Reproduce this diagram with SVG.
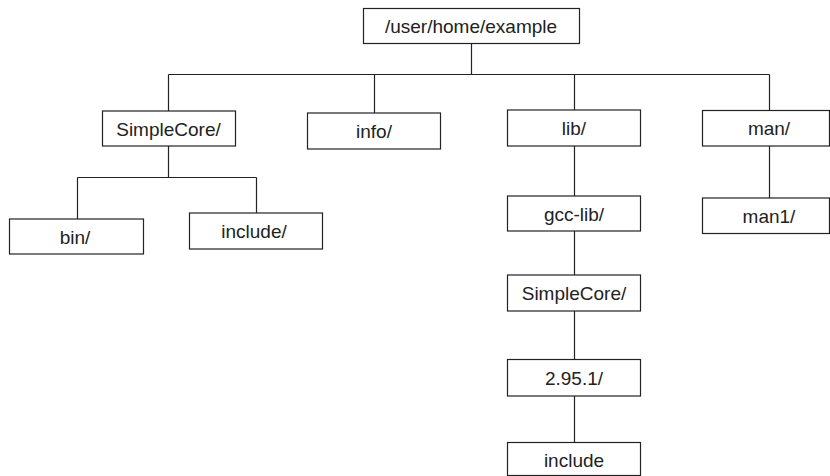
<svg xmlns="http://www.w3.org/2000/svg" width="830" height="476" viewBox="0 0 830 476">
<style>
.box{fill:#fff;stroke:#222;stroke-width:1.2}
.lbl{font-family:"Liberation Sans",Arial,sans-serif;font-size:19px;fill:#222;text-anchor:middle}
.con{stroke:#222;stroke-width:1.2;fill:none}
</style>
<rect width="830" height="476" fill="#fff"/>
<g id="connectors">
<path class="con" d="M471.5 43.5V74.5M168.5 74.5H769.5M168.5 74.5V111M374.5 74.5V113M574.5 74.5V110M769.5 74.5V111"/>
<path class="con" d="M168.5 146V177.5M77.5 177.5H256.5M77.5 177.5V219M256.5 177.5V213"/>
<path class="con" d="M574.5 146V196M574.5 231V275M574.5 311V359M574.5 396V442"/>
<path class="con" d="M769.5 146V198"/>
</g>
<g id="root"><rect class="box" x="363.5" y="8.5" width="216" height="35"/><text class="lbl" x="471" y="33">/user/home/example</text></g>
<g id="simplecore"><rect class="box" x="102.5" y="111" width="133" height="35"/><text class="lbl" x="168.5" y="136">SimpleCore/</text></g>
<g id="info"><rect class="box" x="307.5" y="113" width="133" height="36"/><text class="lbl" x="374" y="138">info/</text></g>
<g id="lib"><rect class="box" x="507.5" y="110" width="133" height="36"/><text class="lbl" x="574" y="135">lib/</text></g>
<g id="man"><rect class="box" x="702.5" y="110.5" width="127" height="35.5"/><text class="lbl" x="769" y="135">man/</text></g>
<g id="bin"><rect class="box" x="9.5" y="219" width="134" height="35"/><text class="lbl" x="75" y="244">bin/</text></g>
<g id="include1"><rect class="box" x="189.5" y="213" width="133" height="36"/><text class="lbl" x="254" y="238">include/</text></g>
<g id="gcclib"><rect class="box" x="507.5" y="196" width="133" height="35"/><text class="lbl" x="574" y="221">gcc-lib/</text></g>
<g id="man1"><rect class="box" x="702.5" y="198" width="127" height="35.5"/><text class="lbl" x="769" y="223">man1/</text></g>
<g id="simplecore2"><rect class="box" x="507.5" y="275" width="133" height="36"/><text class="lbl" x="574" y="300">SimpleCore/</text></g>
<g id="v2951"><rect class="box" x="507.5" y="359.5" width="133" height="36.5"/><text class="lbl" x="574" y="385">2.95.1/</text></g>
<g id="include2"><rect class="box" x="507.5" y="442.5" width="133" height="33"/><text class="lbl" x="574" y="467">include</text></g>
</svg>
